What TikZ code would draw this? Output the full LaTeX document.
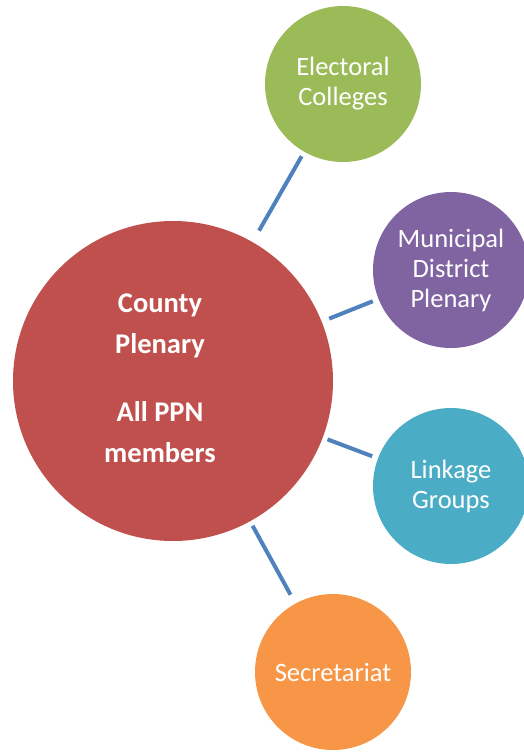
\documentclass[tikz,border=0pt]{standalone}
\usepackage{fontspec}
\setmainfont{Carlito}
\definecolor{cred}{HTML}{C0504D}
\definecolor{cgreen}{HTML}{9BBB59}
\definecolor{cpurple}{HTML}{8064A2}
\definecolor{cteal}{HTML}{4BACC6}
\definecolor{corange}{HTML}{F79646}
\definecolor{linkblue}{HTML}{4F81BD}
\begin{document}
\begin{tikzpicture}[x=1pt,y=-1pt,
  bubble/.style={circle, minimum size=156pt, inner sep=0pt, text=white, align=center, font=\fontsize{26.5}{30}\selectfont},
  link/.style={draw=linkblue, line width=4pt}]
\useasboundingbox (0,0) rectangle (523,753);
\node[circle, fill=cred, minimum size=320pt, inner sep=0pt] (county) at (173,381) {};
\node[text=white, align=center, inner sep=0pt, font=\bfseries\fontsize{28.5}{41}\selectfont] (countytext) at (160,378) {County\\Plenary\\[27pt]All PPN\\members};
\node[bubble, fill=cgreen] (electoral) at (343,84) {Electoral\\Colleges};
\node[bubble, fill=cpurple] (municipal) at (451,270) {Municipal\\District\\Plenary};
\node[bubble, fill=cteal] (linkage) at (451,486) {Linkage\\Groups};
\node[bubble, fill=corange] (secretariat) at (333,672) {Secretariat};
\draw[link, shorten <=13pt, shorten >=5pt] (county) -- (electoral);
\draw[link, shorten <=8pt, shorten >=6pt] (county) -- (municipal);
\draw[link, shorten <=5pt, shorten >=6pt] (county) -- (linkage);
\draw[link, shorten <=5pt, shorten >=10pt] (county) -- (secretariat);
\end{tikzpicture}
\end{document}
